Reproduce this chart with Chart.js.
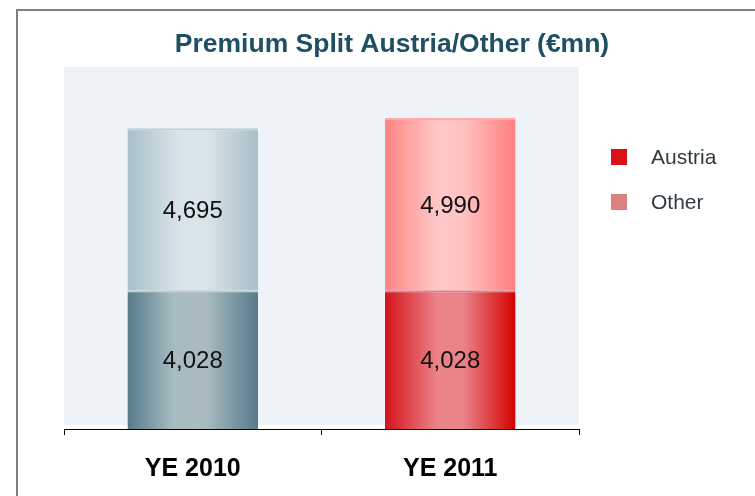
<!DOCTYPE html>
<html>
<head>
<meta charset="utf-8">
<script src="https://cdn.jsdelivr.net/npm/chart.js@4"></script>
<style>
  html,body{margin:0;padding:0;background:#fff;}
  #wrap{width:755px;height:496px;position:relative;}
</style>
</head>
<body>
<div id="wrap"><canvas id="c" width="755" height="496"></canvas></div>
<script>
// ---- data ----
const chartTitle = 'Premium Split Austria/Other (€mn)';
const categories = ['YE 2010', 'YE 2011'];
const austriaValues = [4028, 4028];
const otherValues = [4695, 4990];
const seriesNames = ['Austria', 'Other'];
const yMax = 10500;

// ---- styles ----
const gradStops = {
  0: [
    [[0,'#567B89'],[0.35,'#A7BBC1'],[0.6,'#AABCC2'],[1,'#557A88']],
    [[0,'#D5121B'],[0.4,'#EB8389'],[0.6,'#E8848A'],[1,'#D50000']]
  ],
  1: [
    [[0,'#A8C0CA'],[0.4,'#D9E4E8'],[0.6,'#DAE5E9'],[1,'#A8BFC9']],
    [[0,'#FF8383'],[0.4,'#FFC8C8'],[0.6,'#FFC2C2'],[1,'#FF7E7E']]
  ]
};
const topLine = {
  0: ['#B9CCD2', '#EE7A7F'],
  1: ['#BDD0D8', '#FFA8A8']
};
const barPct = 0.507;

function barGradient(ctx){
  const chart = ctx.chart;
  const area = chart.chartArea;
  const xs = chart.scales && chart.scales.x;
  const stops = gradStops[ctx.datasetIndex][ctx.dataIndex];
  if (!area || !xs) return stops[1][1];
  const xc = xs.getPixelForValue(ctx.dataIndex);
  const w = (area.right - area.left) / categories.length * barPct;
  const g = chart.ctx.createLinearGradient(xc - w/2, 0, xc + w/2, 0);
  stops.forEach(s => g.addColorStop(s[0], s[1]));
  return g;
}

const framePlugin = {
  id: 'frame',
  beforeDraw(chart){
    const c = chart.ctx, a = chart.chartArea;
    c.save();
    c.fillStyle = '#ffffff';
    c.fillRect(0,0,chart.width,chart.height);
    c.fillStyle = '#EDF3F6';
    c.fillRect(a.left, a.top, a.right - a.left, a.bottom - a.top - 4);
    c.fillStyle = '#7F7F7F';
    c.fillRect(16, 9, 2, chart.height - 9);
    c.fillRect(16, 9, chart.width - 16, 2);
    c.fillStyle = '#1E4F63';
    c.font = 'bold 26.5px "Liberation Sans", Arial, sans-serif';
    c.textAlign = 'center';
    c.textBaseline = 'alphabetic';
    c.fillText(chartTitle, 392, 52);
    c.restore();
  },
  afterDatasetsDraw(chart){
    const c = chart.ctx;
    c.save();
    c.fillStyle = '#111111';
    c.font = '24px "Liberation Sans", Arial, sans-serif';
    c.textAlign = 'center';
    c.textBaseline = 'middle';
    chart.data.datasets.forEach((ds, di) => {
      const meta = chart.getDatasetMeta(di);
      meta.data.forEach((bar, i) => {
        const p = bar.getProps(['x','y','base'], true);
        const y = (p.y + p.base) / 2 + 2;
        c.fillText(ds.data[i].toLocaleString('en-US'), p.x, y);
      });
    });
    const legendColors = ['#D9121A', '#D98080'];
    const legendY = [149, 194];
    c.font = '21px "Liberation Sans", Arial, sans-serif';
    c.textAlign = 'left';
    c.textBaseline = 'alphabetic';
    seriesNames.forEach((name, i) => {
      c.fillStyle = legendColors[i];
      c.fillRect(611, legendY[i], 16, 16);
      c.fillStyle = '#2F3B40';
      c.fillText(name, 651, legendY[i] + 15);
    });
    c.restore();
  }
};

new Chart(document.getElementById('c'), {
  type: 'bar',
  data: {
    labels: categories,
    datasets: [
      {
        label: seriesNames[0],
        data: austriaValues,
        backgroundColor: barGradient,
        borderColor: ctx => topLine[0][ctx.dataIndex],
        borderWidth: {top: 2, left: 0, right: 0, bottom: 0},
        borderSkipped: 'start',
        barPercentage: barPct,
        categoryPercentage: 1
      },
      {
        label: seriesNames[1],
        data: otherValues,
        backgroundColor: barGradient,
        borderColor: ctx => topLine[1][ctx.dataIndex],
        borderWidth: {top: 2, left: 0, right: 0, bottom: 0},
        borderSkipped: 'start',
        barPercentage: barPct,
        categoryPercentage: 1
      }
    ]
  },
  options: {
    responsive: false,
    animation: false,
    devicePixelRatio: 1,
    layout: { padding: { left: 64, right: 176, top: 67, bottom: 0 } },
    plugins: {
      legend: { display: false },
      title: { display: false },
      tooltip: { enabled: false }
    },
    scales: {
      x: {
        stacked: true,
        afterFit: (scale) => { scale.height = 67; },
        grid: { drawOnChartArea: false, color: '#000000', tickLength: 6, offset: true },
        border: { color: '#000000', width: 1 },
        ticks: {
          color: '#000000',
          padding: 19,
          font: { family: '"Liberation Sans", Arial, sans-serif', size: 25, weight: 'bold' }
        }
      },
      y: {
        stacked: true,
        display: false,
        min: 0,
        max: yMax
      }
    }
  },
  plugins: [framePlugin]
});
</script>
</body>
</html>
